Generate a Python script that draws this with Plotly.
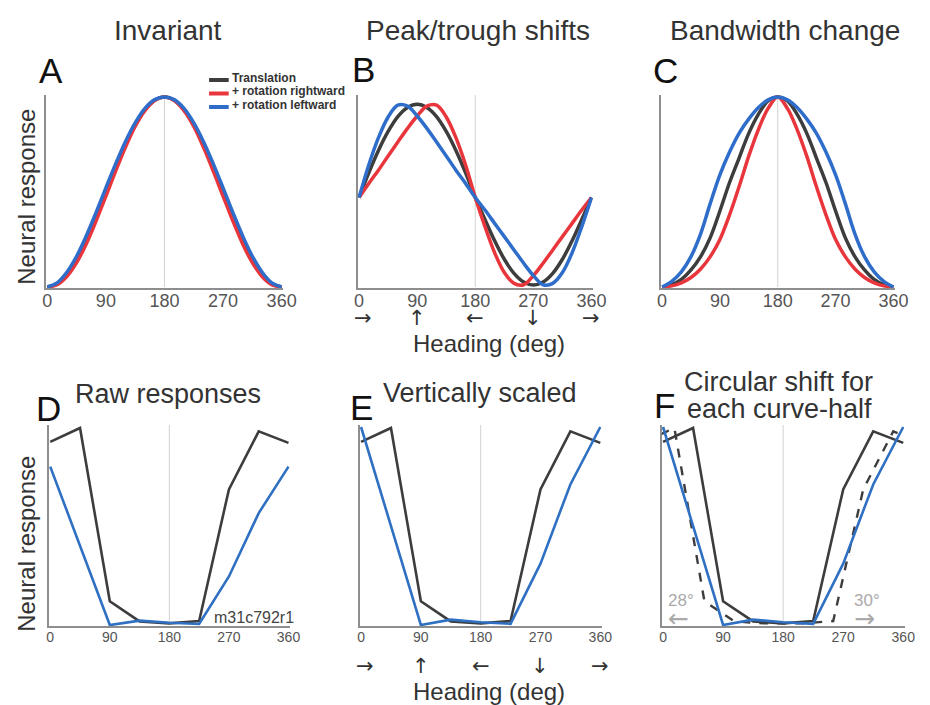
import plotly.graph_objects as go

# the page body has an 8px margin, so the figure is drawn 8px smaller and all
# pixel positions (measured on the 930x705 reference) are offset by 8px
OFF = 8
W, H = 930 - OFF, 705 - OFF
FONT = "Liberation Sans, Arial, sans-serif"
ARROW_FONT = "DejaVu Sans, Liberation Sans, sans-serif"

# ---------------- data ----------------
# Top row: model tuning curves sampled every 15 deg
heading_fine = [0, 15, 30, 45, 60, 75, 90, 105, 120, 135, 150, 165, 180,
                195, 210, 225, 240, 255, 270, 285, 300, 315, 330, 345, 360]

A_translation = [0, .017, .067, .146, .25, .371, .5, .629, .75, .854, .933, .983, 1,
                 .983, .933, .854, .75, .629, .5, .371, .25, .146, .067, .017, 0]
A_rot_right = [0, .012, .055, .128, .228, .348, .478, .61, .735, .845, .928, .981, 1,
               .981, .928, .845, .735, .61, .478, .348, .228, .128, .055, .012, 0]
A_rot_left = [0, .022, .078, .162, .27, .393, .522, .648, .765, .864, .94, .986, 1,
              .986, .94, .864, .765, .648, .522, .393, .27, .162, .078, .022, 0]

B_translation = [.471, .601, .719, .819, .897, .945, .962, .945, .897, .819, .719, .601, .471,
                 .355, .243, .146, .072, .026, .01, .026, .072, .146, .243, .355, .471]
B_rot_right = [.471, .545, .615, .69, .763, .835, .90, .952, .957, .895, .786, .642, .471,
               .318, .18, .076, .019, .012, .06, .125, .195, .265, .335, .405, .471]
B_rot_left = [.471, .642, .786, .895, .957, .952, .90, .835, .763, .69, .615, .545, .471,
              .405, .335, .265, .195, .125, .06, .012, .019, .076, .18, .318, .471]

C_translation = [0, .012, .04, .09, .16, .26, .40, .55, .68, .81, .91, .98, 1,
                 .98, .91, .81, .68, .55, .40, .26, .16, .09, .04, .012, 0]
C_rot_right = [0, .006, .022, .05, .095, .16, .25, .38, .53, .69, .83, .94, 1,
               .94, .83, .69, .53, .38, .25, .16, .095, .05, .022, .006, 0]
C_rot_left = [0, .03, .08, .16, .28, .44, .59, .71, .81, .885, .945, .985, 1,
              .985, .945, .885, .81, .71, .59, .44, .28, .16, .08, .03, 0]

# Bottom row: recorded neuron m31c792r1, sampled every 45 deg
heading_coarse = [0, 45, 90, 135, 180, 225, 270, 315, 360]
raw_translation = [0.925, 0.995, 0.12, 0.018, 0.008, 0.02, 0.685, 0.978, 0.92]
raw_rotation = [0.80, 0.40, 0.0, 0.022, 0.011, 0.005, 0.245, 0.565, 0.80]
scaled_rotation = [1.0, 0.5, 0.0, 0.027, 0.014, 0.006, 0.31, 0.71, 1.0]
shift_left_deg = 28
shift_right_deg = 30

tick_vals = [0, 90, 180, 270, 360]
tick_text = ["0", "90", "180", "270", "360"]
legend_names = ["Translation", "+ rotation rightward", "+ rotation leftward"]
heading_arrows = ["\u2192", "\u2191", "\u2190", "\u2193", "\u2192"]

# ---------------- style ----------------
C_BLACK = "#3d3d3d"
C_RED = "#e8363c"
C_BLUE = "#2e6dca"
C_BLUE2 = "#2f70c2"
AX_COL = "#8e8e8e"

# panel geometry in reference pixels: x of 0 deg, x of 360 deg, y of value 0, y of value 1
panels = [
    dict(x0=44, x1=283, yb=287, yt=97, tick=18, standoff=-5),
    dict(x0=362, x1=599, yb=287, yt=97, tick=18, standoff=-5),
    dict(x0=671, x1=907, yb=287, yt=97, tick=18, standoff=-5),
    dict(x0=47, x1=290, yb=625, yt=427, tick=14, standoff=-3),
    dict(x0=364, x1=608, yb=625, yt=427, tick=14, standoff=-3),
    dict(x0=672, x1=917, yb=625, yt=427, tick=14, standoff=-3),
]
XR = [-2, 362]
YR = [-0.006, 1.01]


def PX(px):
    return (px - OFF) / W


def PY(py):
    return 1 - (py - OFF) / H


fig = go.Figure()
layout = dict(width=W, height=H, margin=dict(l=0, r=0, t=0, b=0),
              paper_bgcolor="white", plot_bgcolor="white", showlegend=False,
              font=dict(family=FONT, color="#333"))
shapes = []
annotations = []

for i, p in enumerate(panels):
    n = "" if i == 0 else str(i + 1)
    ppd = (p["x1"] - p["x0"]) / 360.0
    left = p["x0"] + XR[0] * ppd
    right = p["x0"] + XR[1] * ppd
    ppu = p["yb"] - p["yt"]
    bot = p["yb"] - YR[0] * ppu
    top = p["yt"] - (YR[1] - 1) * ppu
    layout["xaxis" + n] = dict(domain=[PX(left), PX(right)], range=XR, anchor="y" + n,
                               showline=True, linecolor=AX_COL, linewidth=1.6,
                               showgrid=False, zeroline=False, ticks="",
                               tickvals=tick_vals, ticktext=tick_text,
                               ticklabelstandoff=p["standoff"],
                               tickfont=dict(size=p["tick"], color="#555", family=FONT),
                               fixedrange=True)
    layout["yaxis" + n] = dict(domain=[PY(bot), PY(top)], range=YR, anchor="x" + n,
                               showline=True, linecolor=AX_COL, linewidth=1.6,
                               showgrid=False, zeroline=False, showticklabels=False,
                               ticks="", fixedrange=True)
    shapes.append(dict(type="line", xref="x" + n, yref="y" + n, x0=180, x1=180,
                       y0=0, y1=YR[1], line=dict(color="#d2d2d2", width=1), layer="below"))


def add_line(xs, ys, color, idx, width=3.5, dash="solid", shape="spline"):
    n = "" if idx == 0 else str(idx + 1)
    fig.add_trace(go.Scatter(x=xs, y=ys, mode="lines", xaxis="x" + n, yaxis="y" + n,
                             line=dict(color=color, width=width, dash=dash, shape=shape,
                                       smoothing=1.0 if shape == "spline" else None),
                             hoverinfo="skip", showlegend=False))


# top row
for idx, (tr, rr, rl) in enumerate([(A_translation, A_rot_right, A_rot_left),
                                    (B_translation, B_rot_right, B_rot_left),
                                    (C_translation, C_rot_right, C_rot_left)]):
    add_line(heading_fine, tr, C_BLACK, idx)
    add_line(heading_fine, rr, C_RED, idx)
    add_line(heading_fine, rl, C_BLUE, idx)

# bottom row
add_line(heading_coarse, raw_translation, C_BLACK, 3, width=2.6, shape="linear")
add_line(heading_coarse, raw_rotation, C_BLUE2, 3, width=2.6, shape="linear")
add_line(heading_coarse, raw_translation, C_BLACK, 4, width=2.6, shape="linear")
add_line(heading_coarse, scaled_rotation, C_BLUE2, 4, width=2.6, shape="linear")
add_line(heading_coarse, raw_translation, C_BLACK, 5, width=2.6, shape="linear")
# circularly shifted translation curve: first half shifted left, second half shifted right
shift_x = [h - shift_left_deg for h in heading_coarse[:5]] + \
          [h + shift_right_deg for h in heading_coarse[4:]]
shift_y = raw_translation[:5] + raw_translation[4:]
add_line(shift_x, shift_y, C_BLACK, 5, width=2.4, dash="dash", shape="linear")
add_line(heading_coarse, scaled_rotation, C_BLUE2, 5, width=2.6, shape="linear")


def ann(text, px, py, size, color="#333", angle=0, bold=False, family=FONT,
        xanchor="center"):
    if bold:
        text = "<b>" + text + "</b>"
    annotations.append(dict(text=text, x=PX(px), y=PY(py), xref="paper", yref="paper",
                            showarrow=False, xanchor=xanchor, yanchor="middle",
                            textangle=angle, font=dict(size=size, color=color, family=family)))


# titles
ann("Invariant", 167, 30, 28)
ann("Peak/trough shifts", 483, 30, 28)
ann("Bandwidth change", 796, 30, 28)
ann("Raw responses", 167, 394, 27)
ann("Vertically scaled", 485, 393, 27)
ann("Circular shift for", 790, 382, 27)
ann("each curve-half", 791, 409, 27)

# panel letters
for L, (px, py) in zip("ABCDEF", [(48, 70), (366, 69), (675, 70),
                                  (45, 408), (364, 407), (673, 405)]):
    ann(L, px, py, 35, color="#111")

# y titles
ann("Neural response", 22, 197, 24, angle=-90)
ann("Neural response", 22, 544, 24, angle=-90)

# heading arrows + x titles
for row_y, title_y, p in [(318, 343, panels[1]), (666, 691, panels[4])]:
    ppd = (p["x1"] - p["x0"]) / 360.0
    for h, a in zip(tick_vals, heading_arrows):
        ann(a, p["x0"] + h * ppd + (4 if h == 0 else 0), row_y, 21, color="#333",
            family=ARROW_FONT)
    ann("Heading (deg)", 494, title_y, 24)

# legend (panel A)
leg_cols = [C_BLACK, C_RED, C_BLUE]
for name, col, ly in zip(legend_names, leg_cols, [80, 93.5, 107]):
    shapes.append(dict(type="line", xref="paper", yref="paper", x0=PX(209), x1=PX(229),
                       y0=PY(ly), y1=PY(ly), line=dict(color=col, width=4)))
    ann(name, 230, ly - 2, 12, color="#333", bold=True, xanchor="left")

# cell id and shift labels
ann("m31c792r1", 255, 617, 16, color="#444")
ann(str(shift_left_deg) + "\u00b0", 690, 600, 17, color="#aaa")
ann("\u2190", 688, 618, 25, color="#aaa", family=ARROW_FONT)
ann(str(shift_right_deg) + "\u00b0", 880, 600, 17, color="#aaa")
ann("\u2192", 877, 618, 25, color="#aaa", family=ARROW_FONT)

layout["shapes"] = shapes
layout["annotations"] = annotations
fig.update_layout(**layout)
fig.write_html("out.html")
